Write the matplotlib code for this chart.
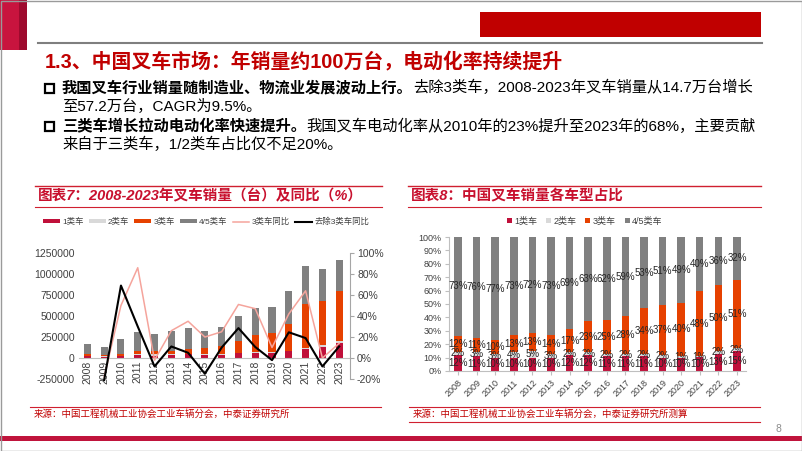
import numpy as np
import matplotlib.pyplot as plt
from matplotlib.patches import Patch, Rectangle
from matplotlib.lines import Line2D

plt.rcParams['font.family'] = ['Liberation Sans', 'Noto Sans CJK SC', 'DejaVu Sans']

# ---- data ----
years = ['2008', '2009', '2010', '2011', '2012', '2013', '2014', '2015',
         '2016', '2017', '2018', '2019', '2020', '2021', '2022', '2023']

# sales by class (units)
cls1 = [19800, 14900, 23000, 31000, 28500, 32500, 43200, 39000,
        40700, 54500, 65500, 60800, 80000, 109500, 136200, 175500]
cls2 = [3300, 4000, 6900, 12400, 14300, 9800, 7200, 6500,
        7400, 9900, 11900, 12200, 8000, 11000, 21000, 23400]
cls3 = [19800, 14900, 23000, 40300, 37000, 45500, 61200, 74800,
        92500, 138600, 202300, 225000, 320000, 525600, 524000, 596700]
cls45 = [122100, 101200, 177100, 226300, 205200, 237200, 248400, 204700,
         229400, 292000, 315300, 310000, 392000, 453000, 377300, 374400]

# yoy growth
yoy3 = [np.nan, -0.18, 0.50, 0.86, -0.02, 0.26, 0.35, 0.20,
        0.25, 0.51, 0.47, 0.10, 0.42, 0.64, 0.00, 0.14]
yoy_ex3 = [np.nan, -0.21, 0.69, 0.30, -0.08, 0.11, 0.05, -0.15,
           0.10, 0.285, 0.105, -0.02, 0.245, 0.19, -0.08, 0.11]

# share by class (%)
sh1 = [12, 11, 10, 10, 10, 10, 12, 12, 11, 11, 11, 10, 10, 10, 13, 15]
sh2 = [2, 3, 3, 4, 5, 3, 2, 2, 2, 2, 2, 2, 1, 1, 2, 2]
sh3 = [12, 11, 10, 13, 13, 14, 17, 23, 25, 28, 34, 37, 40, 48, 50, 51]
sh45 = [73, 76, 77, 73, 72, 73, 69, 63, 62, 59, 53, 51, 49, 40, 36, 32]

names = ['1类车', '2类车', '3类车', '4/5类车']
colors = ['#C0103A', '#D9D9D9', '#E64100', '#808080']
RED = '#C00000'

fig = plt.figure(figsize=(8.02, 4.51), dpi=100)

# ---- slide background (pixel coords) ----
bg = fig.add_axes([0, 0, 1, 1])
bg.set_xlim(0, 802)
bg.set_ylim(451, 0)
bg.axis('off')

bg.add_patch(Rectangle((0, 0), 19, 50, color='#C8143E', lw=0))
bg.add_patch(Rectangle((19, 0), 8, 50, color='#9E0A2E', lw=0))
bg.add_patch(Rectangle((480, 12), 281, 25, color=RED, lw=0))
bg.plot([38, 762], [43, 43], color='#7F7F7F', lw=1.5)
bg.add_patch(Rectangle((0, 435.5), 802, 5, color='#C0143C', lw=0))
bg.add_patch(Rectangle((0.5, 0.5), 801, 450, fill=False, ec='#9A9A9A', lw=1))
bg.text(778, 429, '8', fontsize=7.5, color='#8C8C8C', ha='center', va='center')

bg.text(45, 62, '1.3、中国叉车市场：年销量约100万台，电动化率持续提升',
        fontsize=14.3, fontweight='bold', color=RED, va='center')

fs = 11
bullets = [
    (88, '我国叉车行业销量随制造业、物流业发展波动上行。', '去除3类车，2008-2023年叉车销量从14.7万台增长'),
    (126, '三类车增长拉动电动化率快速提升。', '我国叉车电动化率从2010年的23%提升至2023年的68%，主要贡献'),
]
for y, b, n in bullets:
    bg.add_patch(Rectangle((45, y - 4.5), 9, 9, fill=False, ec='black', lw=1.6))
    t = bg.text(62, y, b, fontsize=fs, fontweight='bold', va='center')
    bg.annotate(n, xy=(1, 0), xycoords=t, va='bottom', ha='left', fontsize=fs)
bg.text(62, 106, '至57.2万台，CAGR为9.5%。', fontsize=fs, va='center')
bg.text(62, 144, '来自于三类车，1/2类车占比仅不足20%。', fontsize=fs, va='center')

# chart title blocks
for x0, x1, title in [(35, 382, '图表7：2008-2023年叉车销量（台）及同比（%）'),
                      (408, 761, '图表8：中国叉车销量各车型占比')]:
    bg.plot([x0, x1], [186, 186], color='#D02030', lw=1)
    bg.plot([x0, x1], [206.5, 206.5], color='#D02030', lw=0.8)
    bg.text(x0 + 3, 196.5, title, fontsize=10.5, fontweight='bold', fontstyle='italic',
            color='#C8102E', va='center')

# source blocks
bg.plot([30, 381], [407, 407], color='#D02030', lw=0.8)
bg.plot([409, 760], [407, 407], color='#D02030', lw=0.8)
bg.plot([409, 760], [422, 422], color='#D02030', lw=0.8)
bg.text(34, 414, '来源：中国工程机械工业协会工业车辆分会，中泰证券研究所',
        fontsize=6.8, color=RED, va='center')
bg.text(413, 414, '来源：中国工程机械工业协会工业车辆分会，中泰证券研究所测算',
        fontsize=6.8, color=RED, va='center')

# ---- left chart ----
x = np.arange(len(years))
ax = fig.add_axes([0.0985, 0.1596, 0.338, 0.2794])
bottom = np.zeros(len(years))
for vals, c in zip([cls1, cls2, cls3, cls45], colors):
    ax.bar(x, vals, 0.42, bottom=bottom, color=c, lw=0)
    bottom += np.array(vals)
ax.set_xlim(-0.5, 15.65)
ax.set_ylim(-250000, 1250000)
ax.set_yticks([-250000, 0, 250000, 500000, 750000, 1000000, 1250000])
ax.set_yticklabels(['-250000', '0', '250000', '500000', '750000', '1000000', '1250000'])
ax.set_xticks(x)
ax.set_xticklabels(years)
for s in ['left', 'top', 'right']:
    ax.spines[s].set_visible(False)
ax.spines['bottom'].set_position(('data', 0))
ax.spines['bottom'].set_color('#BFBFBF')
ax.tick_params(axis='y', length=0, labelsize=7.5, colors='#404040', pad=3)
ax.tick_params(axis='x', length=0, labelsize=7.5, colors='#404040', pad=2, labelrotation=90)

ax2 = ax.twinx()
ax2.plot(x, yoy3, color='#F5A49C', lw=1.1)
ax2.plot(x, yoy_ex3, color='#000000', lw=1.5, clip_on=False)
ax2.set_ylim(-0.2, 1.0)
ax2.set_yticks([-0.2, 0, 0.2, 0.4, 0.6, 0.8, 1.0])
ax2.set_yticklabels(['-20%', '0%', '20%', '40%', '60%', '80%', '100%'])
for s in ['left', 'top', 'bottom']:
    ax2.spines[s].set_visible(False)
ax2.spines['right'].set_color('#A6A6A6')
ax2.tick_params(axis='y', length=3, color='#A6A6A6', labelsize=7.5, labelcolor='#404040', pad=2)

handles = [Patch(facecolor=c, lw=0) for c in colors] + [
    Line2D([], [], color='#F5A49C', lw=1.1), Line2D([], [], color='black', lw=1.5)]
labels = names + ['3类车同比', '去除3类车同比']
fig.legend(handles, labels, loc='center', bbox_to_anchor=(0.257, 0.508), ncol=6,
           frameon=False, fontsize=6, handlelength=2.0, handleheight=0.45,
           handletextpad=0.3, columnspacing=0.6, labelcolor='#404040')

# ---- right chart ----
ax3 = fig.add_axes([0.5595, 0.1774, 0.371, 0.2971])
tot = np.array(sh1) + np.array(sh2) + np.array(sh3) + np.array(sh45)
bottom = np.zeros(len(years))
for vals, c in zip([sh1, sh2, sh3, sh45], colors):
    h = np.array(vals) / tot
    ax3.bar(x, h, 0.4, bottom=bottom, color=c, lw=0)
    for xi, b, hi, v in zip(x, bottom, h, vals):
        ax3.text(xi, b + hi / 2, f'{v}%', ha='center', va='center', fontsize=7, color='#262626')
    bottom += h
ax3.set_xlim(-0.5, 15.5)
ax3.set_ylim(0, 1)
ax3.set_yticks(np.linspace(0, 1, 11))
ax3.set_yticklabels([f'{i}%' for i in range(0, 101, 10)])
ax3.set_xticks(x)
ax3.set_xticklabels(years, rotation=45, ha='right', rotation_mode='anchor')
for s in ['top', 'right']:
    ax3.spines[s].set_visible(False)
for s in ['left', 'bottom']:
    ax3.spines[s].set_color('#BFBFBF')
ax3.tick_params(length=3, color='#BFBFBF', labelsize=6.5, labelcolor='#404040', pad=2)

fig.legend([Patch(facecolor=c, lw=0) for c in colors], names, loc='center',
           bbox_to_anchor=(0.729, 0.51), ncol=4, frameon=False, fontsize=6.5,
           handlelength=0.55, handleheight=0.55, handletextpad=0.25,
           columnspacing=1.0, labelcolor='#404040')

fig.savefig('out.png', dpi=100)
